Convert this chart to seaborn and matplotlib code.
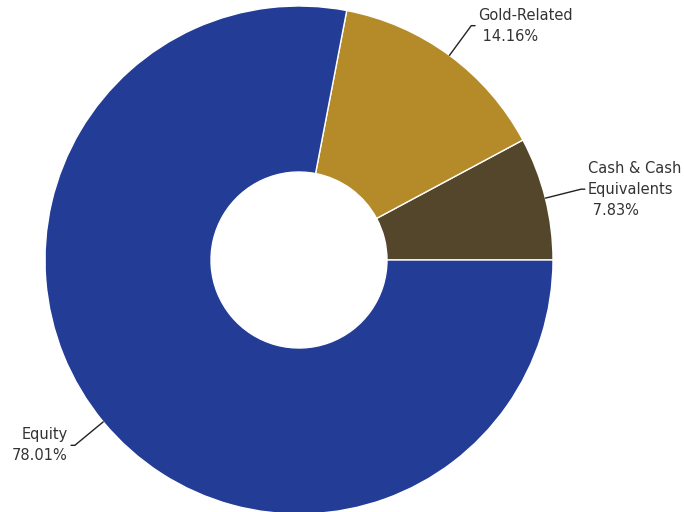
import numpy as np
import matplotlib
matplotlib.use("Agg")
import matplotlib.pyplot as plt
import seaborn as sns

# Asset allocation shares (%)
categories = ["Cash & Cash\nEquivalents", "Gold-Related", "Equity"]
values = [7.83, 14.16, 78.01]
value_labels = ["7.83%", "14.16%", "78.01%"]
colors = ["#54462B", "#B58B2A", "#233C96"]

sns.set_theme(style="white")
plt.rcParams["font.family"] = ["DejaVu Sans"]

W, H = 684, 512
fig = plt.figure(figsize=(W / 100, H / 100), dpi=100)
ax = fig.add_axes([0, 0, 1, 1])

# Donut geometry in pixel units, converted to data units (radius = 1)
cx, cy, R, r_in = 299, 260, 254, 88

wedges, _ = ax.pie(
    values,
    colors=sns.color_palette(colors),
    startangle=0,
    counterclock=True,
    radius=1.0,
    wedgeprops=dict(width=1 - r_in / R, edgecolor="white", linewidth=1.0),
)
ax.set_aspect("equal", adjustable="datalim")
ax.set_xlim(-cx / R, (W - cx) / R)
ax.set_ylim(-(H - cy) / R, cy / R)
ax.axis("off")

# Leader lines and labels at each wedge's mid-angle
for w, cat, lab in zip(wedges, categories, value_labels):
    mid = np.deg2rad((w.theta1 + w.theta2) / 2)
    x0, y0 = np.cos(mid), np.sin(mid)
    xe, ye = 1.145 * np.cos(mid), 1.145 * np.sin(mid)
    side = 1 if x0 >= 0 else -1
    xh = xe + side * 0.015
    ax.plot([x0, xe, xh], [y0, ye, ye], color="#222222", lw=1.0,
            solid_joinstyle="miter")
    if side > 0:
        text = f"{cat}\n {lab}"
        ha = "left"
    else:
        text = f"{cat}\n{lab}"
        ha = "right"
    ax.text(xh + side * 0.012, ye, text, ha=ha, va="center",
            fontsize=10.5, color="#333333", linespacing=1.5,
            multialignment=ha)

fig.savefig("out.png", dpi=100)
